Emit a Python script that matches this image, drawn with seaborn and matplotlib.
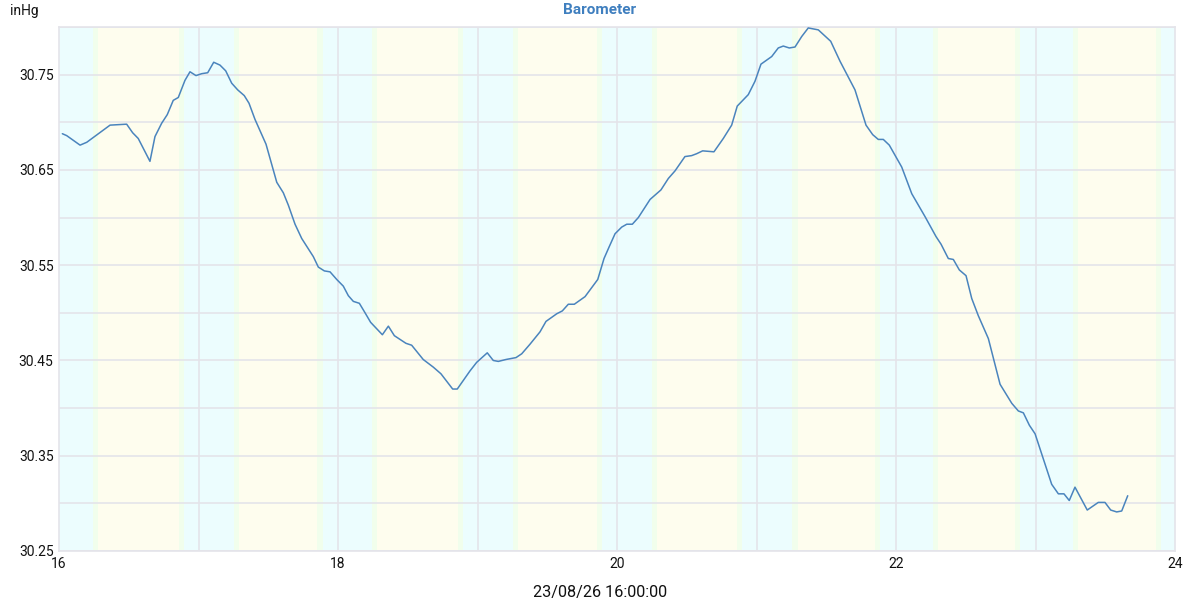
import matplotlib
matplotlib.use("Agg")
import matplotlib.pyplot as plt
import seaborn as sns
import pandas as pd
import numpy as np

# ---- data (days of month, inHg) ----
day = [16.024, 16.055, 16.151, 16.199, 16.282, 16.366, 16.485, 16.528, 16.568, 16.652,
       16.688, 16.736, 16.776, 16.819, 16.855, 16.903, 16.939, 16.982, 17.023, 17.066,
       17.109, 17.154, 17.195, 17.238, 17.281, 17.328, 17.362, 17.405, 17.484, 17.561,
       17.608, 17.644, 17.692, 17.740, 17.823, 17.859, 17.902, 17.943, 17.991, 18.038,
       18.074, 18.110, 18.153, 18.194, 18.234, 18.318, 18.361, 18.404, 18.487, 18.528,
       18.611, 18.683, 18.738, 18.822, 18.855, 18.946, 18.994, 19.070, 19.113, 19.149,
       19.204, 19.276, 19.317, 19.376, 19.448, 19.491, 19.568, 19.608, 19.651, 19.694,
       19.771, 19.862, 19.907, 19.943, 19.986, 20.034, 20.070, 20.110, 20.153, 20.237,
       20.315, 20.368, 20.416, 20.487, 20.535, 20.571, 20.614, 20.695, 20.762, 20.822,
       20.862, 20.941, 20.989, 21.032, 21.109, 21.156, 21.192, 21.235, 21.276, 21.324,
       21.371, 21.443, 21.532, 21.599, 21.706, 21.785, 21.833, 21.873, 21.909, 21.952,
       22.041, 22.113, 22.208, 22.287, 22.323, 22.375, 22.411, 22.454, 22.502, 22.543,
       22.590, 22.662, 22.746, 22.830, 22.877, 22.913, 22.956, 22.997, 23.116, 23.164,
       23.204, 23.242, 23.283, 23.371, 23.450, 23.498, 23.539, 23.582, 23.618, 23.661]
pressure = [30.688, 30.686, 30.676, 30.679, 30.688, 30.697, 30.698, 30.689, 30.683, 30.659,
            30.685, 30.699, 30.708, 30.723, 30.726, 30.744, 30.753, 30.749, 30.751, 30.752,
            30.763, 30.760, 30.754, 30.741, 30.734, 30.728, 30.720, 30.703, 30.677, 30.637,
            30.626, 30.613, 30.593, 30.578, 30.559, 30.548, 30.544, 30.543, 30.535, 30.528,
            30.518, 30.512, 30.510, 30.500, 30.490, 30.477, 30.486, 30.476, 30.468, 30.466,
            30.451, 30.443, 30.436, 30.420, 30.420, 30.439, 30.448, 30.458, 30.450, 30.449,
            30.451, 30.453, 30.457, 30.467, 30.480, 30.491, 30.499, 30.502, 30.509, 30.509,
            30.517, 30.535, 30.557, 30.569, 30.583, 30.590, 30.593, 30.593, 30.600, 30.619,
            30.629, 30.641, 30.649, 30.664, 30.665, 30.667, 30.670, 30.669, 30.683, 30.697,
            30.717, 30.729, 30.743, 30.761, 30.769, 30.778, 30.780, 30.778, 30.779, 30.790,
            30.799, 30.797, 30.785, 30.764, 30.734, 30.697, 30.687, 30.682, 30.682, 30.676,
            30.653, 30.625, 30.601, 30.580, 30.572, 30.557, 30.556, 30.545, 30.539, 30.515,
            30.497, 30.473, 30.425, 30.405, 30.397, 30.395, 30.382, 30.373, 30.320, 30.310,
            30.310, 30.303, 30.317, 30.293, 30.301, 30.301, 30.293, 30.291, 30.292, 30.308]

sunrise = [16.265, 17.269, 18.265, 19.269, 20.270, 21.276, 22.280, 23.290]
sunset = [16.875, 17.871, 18.875, 19.878, 20.880, 21.870, 22.870, 23.880]

x_ticks = [16, 18, 20, 22, 24]
y_ticks = [30.25, 30.35, 30.45, 30.55, 30.65, 30.75]
title = "Barometer"
unit = "inHg"
x_label = "23/08/26 16:00:00"

df = pd.DataFrame({"day": day, "pressure": pressure})

sns.set_theme(style="white")
plt.rcParams["font.family"] = ["Roboto", "DejaVu Sans"]

fig = plt.figure(figsize=(12, 6), dpi=100)
ax = fig.add_axes([59 / 1200, 1 - 551 / 600, (1175 - 59) / 1200, (551 - 27) / 600])

night = "#ECFDFE"
dayc = "#FEFDEE"
mid = "#F1FEEC"
ax.axvspan(16, 24, color=night, lw=0, zorder=0)
for r, s in zip(sunrise, sunset):
    ax.axvspan(r, s, color=dayc, lw=0, zorder=0)
    for b in (r, s):
        ax.axvspan(b - 0.018, b + 0.018, color=mid, lw=0, zorder=0.5)

# grid
for yv in np.arange(30.25, 30.80 + 1e-9, 0.05):
    ax.axhline(yv, color="#E4E4EA", lw=1.2, zorder=1)
for xv in range(17, 24):
    ax.axvline(xv, color="#E4E4EA", lw=1.2, zorder=1)

sns.lineplot(data=df, x="day", y="pressure", ax=ax, color="#4A84BD", lw=1.1, zorder=3)

ax.set_xlim(16, 24)
ax.set_ylim(30.25, 30.80)
ax.set_xticks(x_ticks)
ax.set_xticklabels([str(t) for t in x_ticks])
ax.set_yticks(y_ticks)
ax.set_yticklabels([f"{t:.2f}" for t in y_ticks])
ax.tick_params(axis="both", length=0, labelsize=10, colors="#111111", pad=4)
ax.set_xlabel("")
ax.set_ylabel("")
for sp in ax.spines.values():
    sp.set_color("#E4E4EA")
    sp.set_linewidth(1.2)

fig.text(600 / 1200, 1 - 10 / 600, title, ha="center", va="center", fontsize=11,
         fontweight="bold", color="#3F7FBF")
fig.text(10 / 1200, 1 - 11 / 600, unit, ha="left", va="center", fontsize=10, color="#111111")
fig.text(600 / 1200, 1 - 593 / 600, x_label, ha="center", va="center", fontsize=11.7, color="#111111")

fig.savefig("out.png", dpi=100)
